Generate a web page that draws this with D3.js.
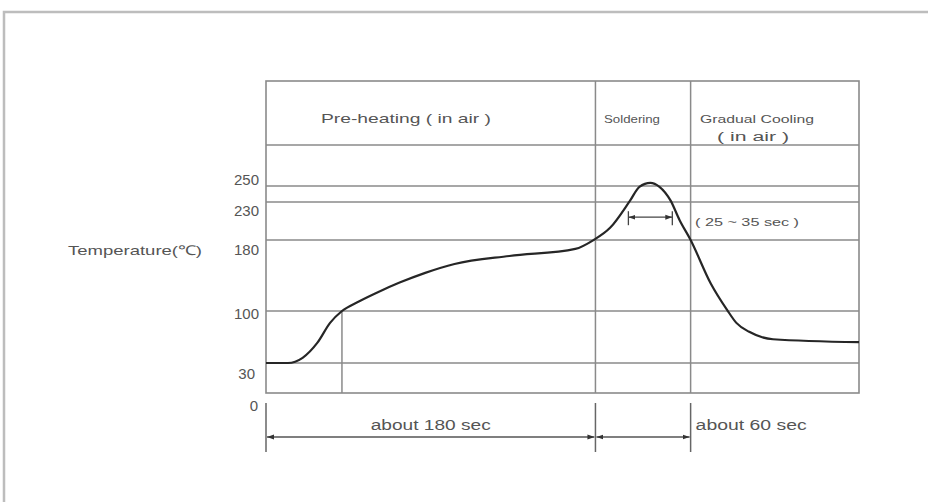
<!DOCTYPE html>
<html><head><meta charset="utf-8">
<script src="https://cdn.jsdelivr.net/npm/d3@7"></script>
<style>html,body{margin:0;padding:0;background:#fff;} svg{display:block;}</style>
</head><body>
<script>
// ---- data ----
const timeSec = [0, 12, 20, 28, 35, 41.5, 51, 62, 73, 87, 103, 133, 169, 179, 188, 199, 204, 210, 215, 221, 226, 232, 243, 252, 257, 264, 277, 324];
const tempC   = [30, 30, 37, 57, 84, 100, 111, 122, 132, 143, 153, 162, 170, 180, 196, 232, 249, 254, 249, 232, 206, 180, 131, 101, 84, 72, 62, 58];
const yTickValues = [0, 30, 100, 180, 230, 250];
const yTickLabels = ["0", "30", "100", "180", "230", "250"];
const phaseNames = ["Pre-heating ( in air )", "Soldering", "Gradual Cooling"];
const phaseSubtitles = ["", "", "( in air )"];
const phaseBounds = [0, 180, 232, 324];
const durationLabels = ["about 180 sec", "", "about 60 sec"];
const solderWindowSec = [198, 222];
const solderWindowTemp = 210;
const solderWindowLabel = "( 25 ~ 35 sec )";
const preheatMarkTemp = 100;
const yTitle = "Temperature(\u2103)";

// ---- layout ----
const W = 928, H = 502;
const L = 266, R = 859, TOP = 81, HEAD = 145, BOT = 393;
const gridColor = "#8a8a8a", textColor = "#555";
const font = "'Liberation Sans', Arial, sans-serif";

const svg = d3.select("body").append("svg").attr("width", W).attr("height", H);

const x = d3.scaleLinear().domain([phaseBounds[0], phaseBounds[3]]).range([L, R]);
const y = d3.scaleLinear().domain(yTickValues).range([BOT, 363, 311, 240, 202, 186]);

// outer frame
svg.append("path").attr("d", `M4,${H} L4,12 L${W},12`).attr("fill", "none")
  .attr("stroke", "#bdbdbd").attr("stroke-width", 2.5);

const g = svg.append("g");
function line(x1, y1, x2, y2, w = 1.5, c = gridColor) {
  return g.append("line").attr("x1", x1).attr("y1", y1).attr("x2", x2).attr("y2", y2)
    .attr("stroke", c).attr("stroke-width", w);
}
function text(str, tx, ty, size, anchor, len) {
  const t = g.append("text").attr("x", tx).attr("y", ty).attr("font-family", font)
    .attr("font-size", size).attr("fill", textColor).attr("text-anchor", anchor || "start")
    .attr("dominant-baseline", "central").text(str);
  if (len) t.attr("textLength", len).attr("lengthAdjust", "spacingAndGlyphs");
  return t;
}

// horizontal grid lines
yTickValues.filter(v => v > 0).forEach(v => line(L, y(v), R, y(v)));
line(L, HEAD, R, HEAD);
// frame
g.append("rect").attr("x", L).attr("y", TOP).attr("width", R - L).attr("height", BOT - TOP)
  .attr("fill", "none").attr("stroke", gridColor).attr("stroke-width", 1.6);
// phase boundaries
[phaseBounds[1], phaseBounds[2]].forEach(t => line(x(t), TOP, x(t), BOT));
// preheat marker
const iMark = tempC.indexOf(preheatMarkTemp);
line(x(timeSec[iMark]), y(preheatMarkTemp), x(timeSec[iMark]), BOT);

// curve
const pts = timeSec.map((t, i) => [t, tempC[i]]);
g.append("path").datum(pts)
  .attr("d", d3.line().x(d => x(d[0])).y(d => y(d[1])).curve(d3.curveMonotoneX))
  .attr("fill", "none").attr("stroke", "#262626").attr("stroke-width", 2.2);

// y tick labels
const tickDy = {"0": 12, "30": 10, "100": 2, "180": 9, "230": 8, "250": -7};
const tickDx = {"0": -1, "30": -4};
yTickValues.forEach((v, i) => {
  const lab = yTickLabels[i];
  text(lab, 259 + (tickDx[lab] || 0), y(v) + tickDy[lab], 15, "end");
});
text(yTitle, 68, 250, 13.5, "start", 134);

// header labels
text(phaseNames[0], 406, 118, 13.5, "middle", 170);
text(phaseNames[1], 604, 119, 10.5, "start", 56);
text(phaseNames[2], 700, 119, 10.5, "start", 114);
text(phaseSubtitles[2], 753, 137, 12, "middle", 72);

// soldering window arrow
const defs = svg.append("defs");
function marker(id, size) {
  defs.append("marker").attr("id", id).attr("viewBox", "0 0 10 10").attr("refX", 10).attr("refY", 5)
    .attr("markerWidth", size).attr("markerHeight", size).attr("orient", "auto-start-reverse")
    .attr("markerUnits", "userSpaceOnUse")
    .append("path").attr("d", "M0,1.5 L10,5 L0,8.5 Z").attr("fill", "#333");
}
marker("arr", 7);
const sy = y(solderWindowTemp);
const sx1 = x(solderWindowSec[0]), sx2 = x(solderWindowSec[1]);
line(sx1, sy - 6, sx1, sy + 8, 1.3, "#444");
line(sx2, sy - 6, sx2, sy + 8, 1.3, "#444");
line(sx1, sy, sx2, sy, 1.2, "#444").attr("marker-start", "url(#arr)").attr("marker-end", "url(#arr)");
text(solderWindowLabel, 695, 222, 11, "start", 104);

// bottom duration arrows
const AY = 437;
[phaseBounds[0], phaseBounds[1], phaseBounds[2]].forEach(t => line(x(t), 403, x(t), 452, 1.5, "#666"));
[[phaseBounds[0], phaseBounds[1]], [phaseBounds[1], phaseBounds[2]]].forEach(([a, b]) => {
  line(x(a) + 1, AY, x(b) - 1, AY, 1.3, "#555").attr("marker-start", "url(#arr)").attr("marker-end", "url(#arr)");
});
text(durationLabels[0], (x(phaseBounds[0]) + x(phaseBounds[1])) / 2, 425, 14, "middle", 120);
text(durationLabels[2], x(phaseBounds[2]) + 5, 425, 14, "start", 111);
</script>
</body></html>
